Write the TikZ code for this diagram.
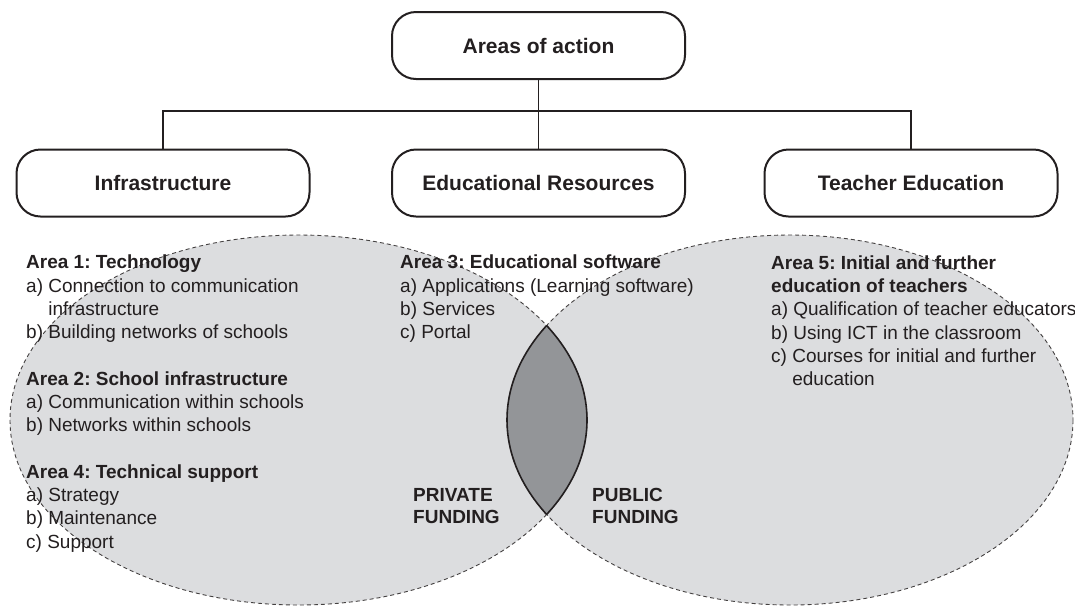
\documentclass[tikz,border=0pt]{standalone}
\usepackage{fontspec}
\setmainfont{Liberation Sans}
\frenchspacing
\definecolor{ellgray}{HTML}{DCDDDF}
\definecolor{lensgray}{HTML}{939598}
\definecolor{ink}{HTML}{231F20}
\begin{document}
\begin{tikzpicture}[x=1pt,y=-1pt,
  box/.style={draw=ink, line width=2pt, rounded corners=24pt, minimum width=293pt,
    minimum height=67pt, font=\fontsize{21}{25}\selectfont\bfseries, text=ink, inner sep=0pt},
  conn/.style={draw=ink, line width=1.3pt},
  venn/.style={fill=ellgray},
  vennline/.style={draw=ink!85, line width=0.9pt, dash pattern=on 4pt off 3pt},
  lensline/.style={draw=ink, line width=1.6pt},
  txt/.style={anchor=north west, inner sep=0pt, align=left, text=ink,
    font=\fontsize{19}{23.3}\selectfont},
  fund/.style={txt, font=\fontsize{19}{22}\selectfont\bfseries},
]
\useasboundingbox (0,0) rectangle (1075,606);

% Venn ellipses
\path[venn] (298.5,420) ellipse [x radius=288.5, y radius=185];
\path[venn] (790,420) ellipse [x radius=283, y radius=185];
\draw[vennline] (298.5,420) ellipse [x radius=288.5, y radius=185];
\draw[vennline] (790,420) ellipse [x radius=283, y radius=185];
\begin{scope}
  \clip (298.5,420) ellipse [x radius=288.5, y radius=185];
  \fill[lensgray] (790,420) ellipse [x radius=283, y radius=185];
  \draw[lensline] (790,420) ellipse [x radius=283, y radius=185];
\end{scope}
\begin{scope}
  \clip (790,420) ellipse [x radius=283, y radius=185];
  \draw[lensline] (298.5,420) ellipse [x radius=288.5, y radius=185];
\end{scope}

% Boxes
\node[box] (top) at (538.5,45.5) {Areas of action};
\node[box] (infra) at (163,183) {Infrastructure};
\node[box] (edu) at (538.5,183) {Educational Resources};
\node[box] (teach) at (911,183) {Teacher Education};
\coordinate (bus) at (538.5,111);

\draw[conn] (top.south) -- (edu.north);
\draw[conn] (infra.north) |- (bus) -| (teach.north);

% Texts
\node[txt] (a1) at (26,252.5) {\rule{0pt}{16pt}\textbf{Area 1: Technology}\\
  a) Connection to communication\\
  \hphantom{a) }infrastructure\\
  b) Building networks of schools};
\node[txt] (a2) at (26,369) {\rule{0pt}{16pt}\textbf{Area 2: School infrastructure}\\
  a) Communication within schools\\
  b) Networks within schools};
\node[txt] (a4) at (26,462) {\rule{0pt}{16pt}\textbf{Area 4: Technical support}\\
  a) Strategy\\
  b) Maintenance\\
  c) Support};
\node[txt] (a3) at (400,252.5) {\rule{0pt}{16pt}\textbf{Area 3: Educational software}\\
  a) Applications (Learning software)\\
  b) Services\\
  c) Portal};
\node[txt] (a5) at (771,253) {\rule{0pt}{16pt}\textbf{Area 5: Initial and further}\\
  \textbf{education of teachers}\\
  a) Qualification of teacher educators\\
  b) Using ICT in the classroom\\
  c) Courses for initial and further\\
  \hphantom{c) }education};
\node[fund] (priv) at (413,485) {\rule{0pt}{16pt}PRIVATE\\FUNDING};
\node[fund] (publ) at (592,485) {\rule{0pt}{16pt}PUBLIC\\FUNDING};
\end{tikzpicture}
\end{document}
